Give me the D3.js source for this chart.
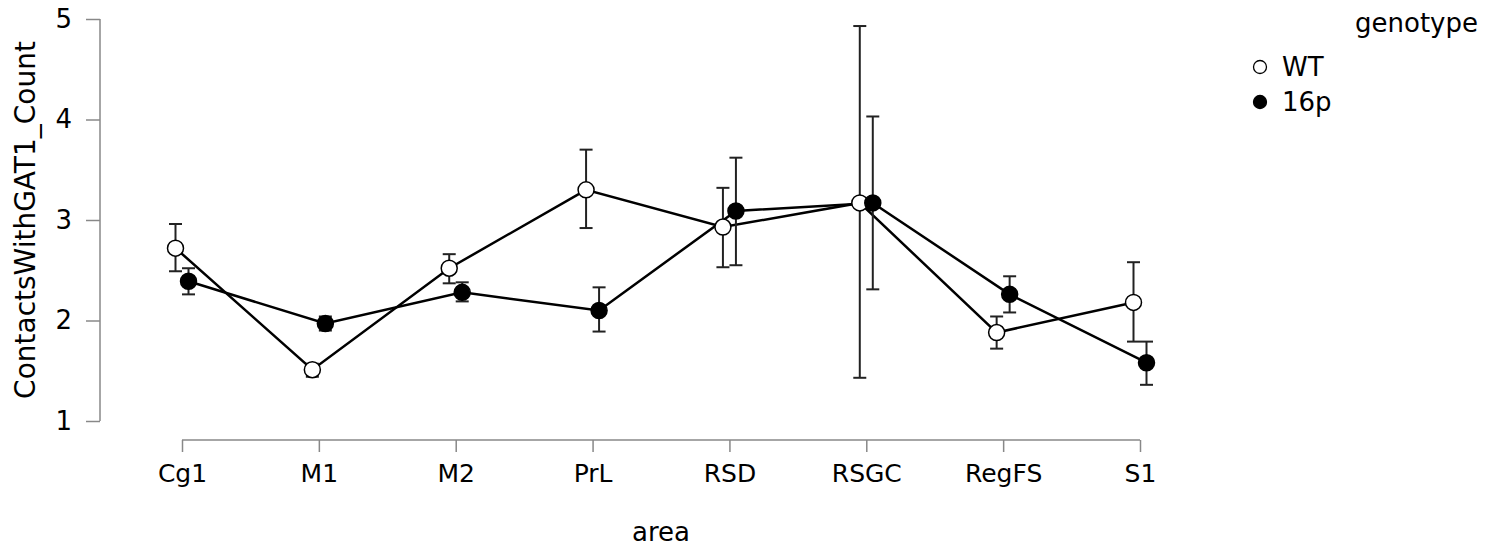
<!DOCTYPE html>
<html lang="en">
<head>
<meta charset="utf-8">
<title>ContactsWithGAT1_Count by area</title>
<script src="https://d3js.org/d3.v7.min.js"></script>
<style>
  body { margin: 0; background: #fff; }
  svg { display: block; font-family: "DejaVu Sans", sans-serif; }
</style>
</head>
<body>
<svg class="chart"></svg>
<script>
// data
var areas = ["Cg1", "M1", "M2", "PrL", "RSD", "RSGC", "RegFS", "S1"];
var yTicks = [1, 2, 3, 4, 5];

var wtMean  = [2.72, 1.51, 2.52, 3.30, 2.93, 3.17, 1.88, 2.18];
var wtLow   = [2.49, 1.44, 2.37, 2.92, 2.53, 1.43, 1.72, 1.79];
var wtHigh  = [2.96, 1.57, 2.66, 3.70, 3.32, 4.93, 2.04, 2.58];

var p16Mean = [2.39, 1.97, 2.28, 2.10, 3.09, 3.17, 2.26, 1.58];
var p16Low  = [2.26, 1.90, 2.19, 1.89, 2.55, 2.31, 2.08, 1.36];
var p16High = [2.52, 2.04, 2.38, 2.33, 3.62, 4.03, 2.44, 1.79];

var groups = [
  { name: "WT",  fill: "#fff", dodge: -6.5, mean: wtMean,  low: wtLow,  high: wtHigh },
  { name: "16p", fill: "#000", dodge:  6.5, mean: p16Mean, low: p16Low, high: p16High }
];

var width = 1499, height = 550;
var fontFam = "DejaVu Sans, sans-serif";

var svg = d3.select(".chart")
  .attr("width", width)
  .attr("height", height);

var x = d3.scalePoint()
  .domain(areas)
  .range([182, 1140]);

var y = d3.scaleLinear()
  .domain([1, 5])
  .range([421, 19]);

var axisColor = "#888";

// left axis
var yAxis = svg.append("g")
  .attr("transform", "translate(100,0)")
  .call(d3.axisLeft(y).tickValues(yTicks).tickSize(14).tickPadding(14).tickFormat(d3.format("d")))
  .attr("font-family", fontFam)
  .attr("font-size", 26);
yAxis.select(".domain").attr("stroke", axisColor).attr("stroke-width", 1.5)
  .attr("d", "M0," + y(5) + "V" + y(1));
yAxis.selectAll(".tick line").attr("stroke", axisColor).attr("stroke-width", 1.5);
yAxis.selectAll(".tick text").attr("fill", "#000");

// bottom axis
var xAxis = svg.append("g")
  .attr("transform", "translate(0,440)")
  .call(d3.axisBottom(x).tickSize(12).tickPadding(12))
  .attr("font-family", fontFam)
  .attr("font-size", 25);
xAxis.select(".domain").attr("stroke", axisColor).attr("stroke-width", 1.5)
  .attr("d", "M" + x(areas[0]) + ",0H" + x(areas[areas.length - 1]));
xAxis.selectAll(".tick line").attr("stroke", axisColor).attr("stroke-width", 1.5);
xAxis.selectAll(".tick text").attr("fill", "#000");

// axis titles
svg.append("text")
  .attr("transform", "translate(35," + (y(3)) + ") rotate(-90)")
  .attr("text-anchor", "middle")
  .style("font-size", "28px")
  .text("ContactsWithGAT1_Count");

svg.append("text")
  .attr("x", x("PrL") / 2 + x("RSD") / 2)
  .attr("y", 541)
  .attr("text-anchor", "middle")
  .style("font-size", "26px")
  .text("area");

var line = d3.line()
  .x(function(d) { return d.x; })
  .y(function(d) { return y(d.v); });

groups.forEach(function(g) {
  var pts = areas.map(function(a, i) {
    return { x: x(a) + g.dodge, v: g.mean[i], lo: g.low[i], hi: g.high[i] };
  });
  g.pts = pts;

  svg.append("path")
    .datum(pts)
    .attr("fill", "none")
    .attr("stroke", "#000")
    .attr("stroke-width", 2.5)
    .attr("d", line);
});

// error bars
groups.forEach(function(g) {
  var eb = svg.append("g").attr("stroke", "#222").attr("stroke-width", 2);
  eb.selectAll(".stem").data(g.pts).enter().append("line")
    .attr("x1", function(d) { return d.x; }).attr("x2", function(d) { return d.x; })
    .attr("y1", function(d) { return y(d.lo); }).attr("y2", function(d) { return y(d.hi); });
  eb.selectAll(".capTop").data(g.pts).enter().append("line")
    .attr("x1", function(d) { return d.x - 6.5; }).attr("x2", function(d) { return d.x + 6.5; })
    .attr("y1", function(d) { return y(d.hi); }).attr("y2", function(d) { return y(d.hi); });
  eb.selectAll(".capBot").data(g.pts).enter().append("line")
    .attr("x1", function(d) { return d.x - 6.5; }).attr("x2", function(d) { return d.x + 6.5; })
    .attr("y1", function(d) { return y(d.lo); }).attr("y2", function(d) { return y(d.lo); });
});

// points
groups.forEach(function(g) {
  svg.append("g").selectAll("circle").data(g.pts).enter().append("circle")
    .attr("cx", function(d) { return d.x; })
    .attr("cy", function(d) { return y(d.v); })
    .attr("r", 8)
    .attr("fill", g.fill)
    .attr("stroke", "#000")
    .attr("stroke-width", 1.5);
});

// legend
svg.append("text")
  .attr("x", 1478)
  .attr("y", 32)
  .attr("text-anchor", "end")
  .style("font-size", "26px")
  .text("genotype");

var leg = svg.append("g").selectAll("g").data(groups).enter().append("g")
  .attr("transform", function(d, i) { return "translate(1260," + (67 + i * 35) + ")"; });
leg.append("circle")
  .attr("r", 6.5)
  .attr("fill", function(d) { return d.fill; })
  .attr("stroke", "#000")
  .attr("stroke-width", 1.3);
leg.append("text")
  .attr("x", 22)
  .attr("dy", "0.35em")
  .style("font-size", "26px")
  .text(function(d) { return d.name; });
</script>
</body>
</html>
